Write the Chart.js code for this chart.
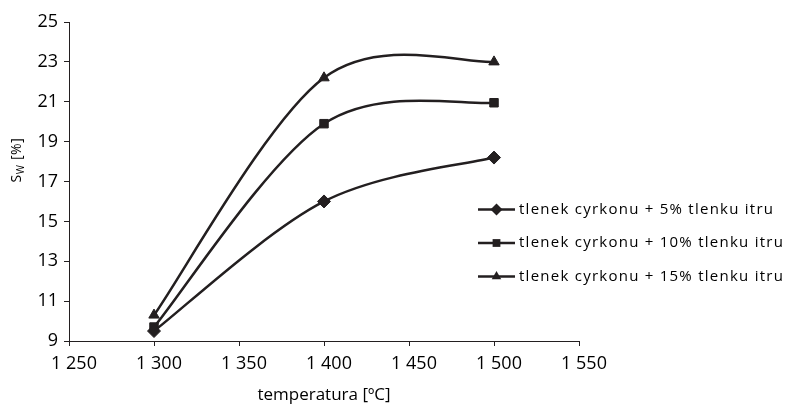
<!DOCTYPE html>
<html><head><meta charset="utf-8">
<script src="https://cdn.jsdelivr.net/npm/chart.js@4/dist/chart.umd.min.js"></script>
<style>html,body{margin:0;padding:0;background:#fff}#wrap{width:791px;height:405px}</style>
</head><body><div id="wrap"><canvas id="c" width="791" height="405"></canvas></div>
<script>
// ---- data ----
const temperatures = [1300, 1400, 1500];
const series5  = [9.5, 16.0, 18.2];
const series10 = [9.7, 19.9, 20.95];
const series15 = [10.3, 22.2, 23.0];
const seriesLabels = [
  'tlenek cyrkonu + 5% tlenku itru',
  'tlenek cyrkonu + 10% tlenku itru',
  'tlenek cyrkonu + 15% tlenku itru'
];
const pointStyles = ['rectRot', 'rect', 'triangle'];
const xTicks = [1250, 1300, 1350, 1400, 1450, 1500, 1550];
const yTicks = [9, 11, 13, 15, 17, 19, 21, 23, 25];
const xTitle = 'temperatura [ºC]';
const yTitleMain = 'S', yTitleSub = 'W', yTitleRest = ' [%]';

const INK = '#231f20';
const FONT = '"Open Sans", Lato, sans-serif';
const fmt = v => String(v).replace(/\B(?=(\d{3})+(?!\d))/g, ' ');

const allSeries = [series5, series10, series15];
const datasets = allSeries.map((s, i) => ({
  label: seriesLabels[i],
  data: temperatures.map((t, j) => ({x: t, y: s[j]})),
  borderColor: INK,
  backgroundColor: INK,
  borderWidth: 2.5,
  pointStyle: pointStyles[i],
  pointRadius: i === 0 ? 6.5 : 6,
  pointBorderWidth: 1,
  pointBackgroundColor: INK,
  pointBorderColor: INK,
  tension: 0.4,
  fill: false
}));

// Excel-like smoothing: Catmull-Rom tangents (1/6) on the points placed by the scales
const smoothing = {
  id: 'smoothing',
  beforeDatasetDraw(chart, args) {
    const line = args.meta.dataset;
    if (!line) return;
    const pts = line.points;
    const n = pts.length;
    for (let i = 0; i < n; i++) {
      const p = pts[i], prev = pts[Math.max(i - 1, 0)], next = pts[Math.min(i + 1, n - 1)];
      const dx = (next.x - prev.x) / 6, dy = (next.y - prev.y) / 6;
      p.cp1x = p.x - dx; p.cp1y = p.y - dy;
      p.cp2x = p.x + dx; p.cp2y = p.y + dy;
    }
    line._path = undefined;
  }
};

function drawMarker(ctx, style, x, y, r) {
  ctx.beginPath();
  if (style === 'rectRot') {
    ctx.moveTo(x - r, y); ctx.lineTo(x, y - r); ctx.lineTo(x + r, y); ctx.lineTo(x, y + r);
  } else if (style === 'rect') {
    const s = Math.SQRT1_2 * r;
    ctx.rect(x - s, y - s, 2 * s, 2 * s);
  } else {
    const edge = 3 * r / Math.sqrt(3), h = edge * Math.sqrt(3) / 2;
    ctx.moveTo(x - edge / 2, y + h / 3); ctx.lineTo(x + edge / 2, y + h / 3); ctx.lineTo(x, y - 2 * h / 3);
  }
  ctx.closePath();
  ctx.fill();
}

const extras = {
  id: 'extras',
  afterDraw(chart) {
    const ctx = chart.ctx;
    ctx.save();
    // legend
    chart.data.datasets.forEach((ds, i) => {
      const y = 209.5 + i * 33.5;
      ctx.strokeStyle = INK; ctx.lineWidth = 2.5;
      ctx.beginPath(); ctx.moveTo(478, y); ctx.lineTo(515, y); ctx.stroke();
      ctx.fillStyle = INK;
      drawMarker(ctx, ds.pointStyle, 496.5, y, i === 0 ? 6 : 5.5);
      ctx.fillStyle = '#000';
      ctx.font = '15px ' + FONT;
      ctx.letterSpacing = '1.25px';
      ctx.textBaseline = 'middle'; ctx.textAlign = 'left';
      ctx.fillText(ds.label, 519, y);
      ctx.letterSpacing = '0px';
    });
    // y axis title with subscript
    ctx.translate(17, 160);
    ctx.rotate(-Math.PI / 2);
    ctx.fillStyle = '#000';
    ctx.textBaseline = 'alphabetic'; ctx.textAlign = 'left';
    ctx.letterSpacing = '0.6px';
    const fMain = '14px ' + FONT, fSub = '10px ' + FONT;
    ctx.font = fMain; const w1 = ctx.measureText(yTitleMain).width;
    ctx.font = fSub; const w2 = ctx.measureText(yTitleSub).width;
    ctx.font = fMain; const w3 = ctx.measureText(yTitleRest).width;
    let x0 = -(w1 + w2 + w3) / 2;
    ctx.font = fMain; ctx.fillText(yTitleMain, x0, 4);
    ctx.font = fSub; ctx.fillText(yTitleSub, x0 + w1, 7);
    ctx.font = fMain; ctx.fillText(yTitleRest, x0 + w1 + w2, 4);
    ctx.restore();
  }
};

new Chart(document.getElementById('c'), {
  type: 'line',
  data: { datasets },
  options: {
    responsive: false,
    animation: false,
    layout: { padding: { top: 22, right: 212, left: 0, bottom: 0 } },
    plugins: { legend: { display: false }, tooltip: { enabled: false } },
    scales: {
      x: {
        type: 'linear', min: 1250, max: 1550,
        afterBuildTicks: s => { s.ticks = xTicks.map(v => ({value: v})); },
        afterFit: s => { s.height = 64; },
        ticks: { callback: v => fmt(v), color: '#000', font: { family: FONT, size: 18 }, padding: 7, labelOffset: 5, maxRotation: 0, autoSkip: false },
        grid: { display: true, drawOnChartArea: false, drawTicks: true, tickLength: 5, color: INK, lineWidth: 1 },
        border: { display: true, color: INK, width: 1 },
        title: { display: true, text: xTitle, color: '#000', font: { family: FONT, size: 17 }, padding: { top: 0, bottom: 0 } }
      },
      y: {
        min: 9, max: 25,
        afterBuildTicks: s => { s.ticks = yTicks.map(v => ({value: v})); },
        afterFit: s => { s.width = 69; },
        ticks: { color: '#000', font: { family: FONT, size: 18 }, padding: 6 },
        grid: { display: true, drawOnChartArea: false, drawTicks: true, tickLength: 5, color: INK, lineWidth: 1 },
        border: { display: true, color: INK, width: 1 }
      }
    }
  },
  plugins: [smoothing, extras]
});
</script></body></html>
